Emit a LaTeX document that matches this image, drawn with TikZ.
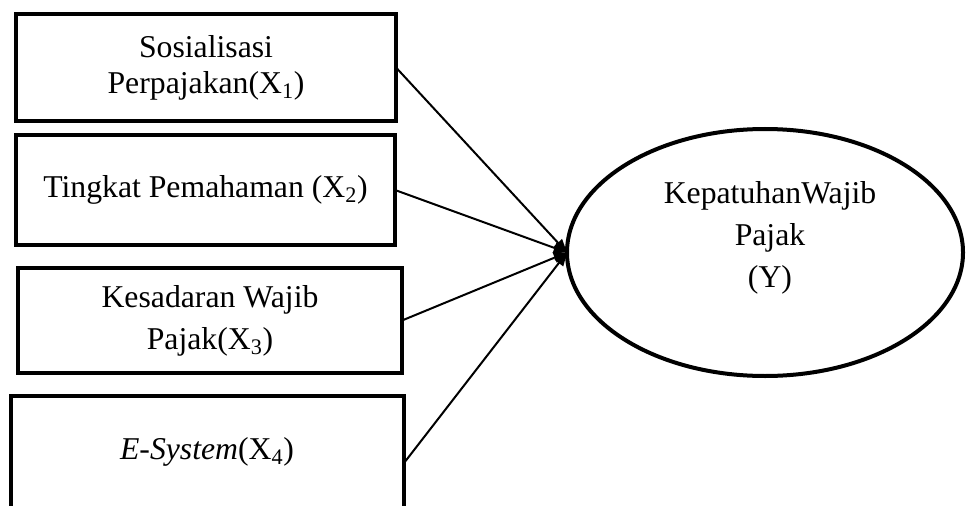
\documentclass[tikz,border=0pt]{standalone}
\usepackage{fontspec}
\setmainfont{Liberation Serif}
\usetikzlibrary{shapes.geometric,arrows.meta}
\begin{document}
\begin{tikzpicture}[x=0.75pt,y=-0.75pt,
  varbox/.style={draw,line width=3pt,rectangle,inner sep=0pt,outer sep=0pt,align=center},
  latent/.style={draw,line width=3pt,ellipse,inner sep=0pt,outer sep=0pt},
  lbl/.style={align=center,inner sep=0pt},
  link/.style={line width=1.5pt,-{Triangle[length=10pt,width=8pt]}},
  every node/.style={font=\fontsize{23.8pt}{27pt}\selectfont}]
\useasboundingbox (0,0) rectangle (966,506);
\begin{scope}
\clip (0,0) rectangle (966,506);
% independent variables
\node[varbox,minimum width=285pt,minimum height=80.25pt] (x1) at (206,67.5)
  {Sosialisasi\\Perpajakan(X\textsubscript{1})};
\node[varbox,minimum width=284.25pt,minimum height=82.5pt] (x2) at (205.5,190)
  {Tingkat Pemahaman (X\textsubscript{2})};
\node[varbox,minimum width=288pt,minimum height=78.75pt,
  font=\fontsize{23.8pt}{31.5pt}\selectfont] (x3) at (210,320.5)
  {Kesadaran Wajib\\Pajak(X\textsubscript{3})};
\node[varbox,minimum width=294.75pt,minimum height=100.5pt] (x4) at (207.5,463) {};
\node[lbl] (x4t) at (207,452) {\textit{E-System}(X\textsubscript{4})};
% dependent variable
\node[latent,minimum width=297pt,minimum height=185.25pt] (y) at (765,252.5) {};
\node[lbl,font=\fontsize{23.8pt}{31.5pt}\selectfont] (yt) at (770,238)
  {KepatuhanWajib\\Pajak\\(Y)};
% paths
\draw[link] (x1.east) -- (y.west);
\draw[link] (x2.east) -- (y.west);
\draw[link] (x3.east) -- (y.west);
\draw[link] (x4.east) -- (y.west);
\end{scope}
\end{tikzpicture}
\end{document}
